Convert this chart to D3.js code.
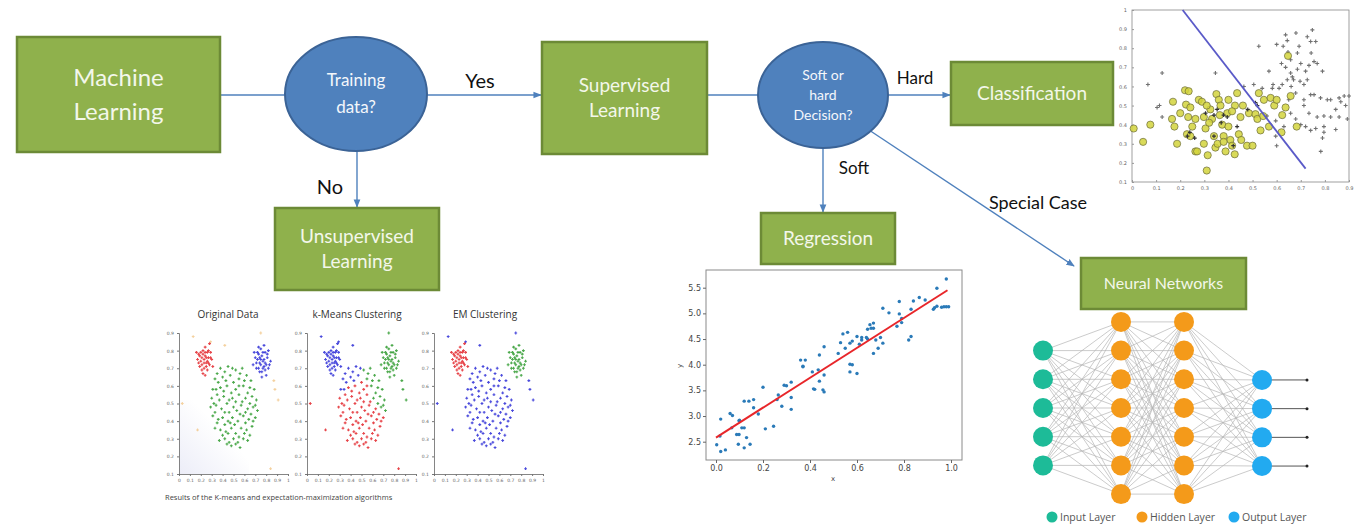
<!DOCTYPE html>
<html><head><meta charset="utf-8">
<script src="https://cdn.jsdelivr.net/npm/d3@7"></script>
<style>html,body{margin:0;padding:0;background:#fff;} svg{display:block;}</style>
</head><body><svg id="c" width="1360" height="526"></svg>
<script>
// ---------------- DATA ----------------
const boxLabels = [["Machine","Learning"],["Unsupervised","Learning"],["Supervised","Learning"],["Classification"],["Regression"],["Neural Networks"]];
const decisionLabels = [["Training","data?"],["Soft or","hard","Decision?"]];
const edgeLabels = ["Yes","No","Hard","Soft","Special Case"];

// regression scatter (x, y)
const regX = [0.003,0.02,0.04,0.02,0.017,0.06,0.07,0.067,0.088,0.098,0.098,0.10,0.095,0.11,0.12,0.12,0.12,0.14,0.13,0.145,0.16,0.16,0.18,0.20,0.21,0.245,0.26,0.265,0.28,0.29,0.30,0.32,0.32,0.32,0.36,0.37,0.38,0.37,0.41,0.415,0.42,0.435,0.44,0.44,0.455,0.46,0.46,0.46,0.52,0.53,0.54,0.55,0.56,0.57,0.57,0.57,0.58,0.58,0.60,0.60,0.61,0.62,0.62,0.64,0.645,0.645,0.655,0.66,0.67,0.67,0.67,0.68,0.69,0.70,0.71,0.71,0.736,0.77,0.78,0.78,0.79,0.79,0.82,0.83,0.83,0.84,0.865,0.89,0.925,0.93,0.94,0.94,0.96,0.97,0.98,0.98,0.99];
const regY = [2.44,2.31,2.34,2.94,2.61,3.05,3.01,2.77,2.64,2.64,2.91,2.92,2.45,2.77,2.77,2.38,3.29,3.29,2.58,2.45,3.16,3.32,3.04,3.56,2.75,2.80,3.32,3.41,3.19,3.60,3.59,3.66,3.36,3.13,4.09,3.97,4.09,3.96,3.86,3.53,3.52,3.90,4.19,3.68,3.51,3.47,4.35,3.80,4.22,4.43,4.60,4.32,4.63,4.42,4.01,3.86,4.46,4.00,3.83,4.55,4.40,4.48,4.53,4.53,4.50,4.69,4.78,4.71,4.81,4.22,4.71,4.48,4.32,4.53,4.42,5.10,5.01,4.75,5.23,4.99,4.82,4.90,4.48,4.55,5.08,5.24,5.31,5.26,5.08,5.11,5.49,5.14,5.12,5.13,5.67,5.13,5.13];
const regFitX = [0.0, 0.985];
const regFitY = [2.58, 5.45];
const regXTicks = [0.0,0.2,0.4,0.6,0.8,1.0];
const regYTicks = [2.5,3.0,3.5,4.0,4.5,5.0,5.5];

// classification scatter
const clsAX = [0.007,0.046,0.076,0.17,0.166,0.176,0.187,0.20,0.22,0.235,0.224,0.242,0.233,0.228,0.242,0.25,0.263,0.263,0.277,0.29,0.298,0.305,0.298,0.31,0.314,0.325,0.332,0.34,0.346,0.35,0.36,0.364,0.367,0.374,0.38,0.388,0.395,0.40,0.40,0.408,0.415,0.426,0.427,0.436,0.443,0.45,0.453,0.46,0.477,0.485,0.50,0.512,0.52,0.526,0.533,0.544,0.547,0.568,0.575,0.59,0.60,0.62,0.623,0.637,0.647,0.658,0.683,0.27,0.32,0.355,0.31,0.415,0.38];
const clsAY = [0.38,0.31,0.40,0.52,0.43,0.39,0.30,0.46,0.58,0.575,0.505,0.49,0.44,0.35,0.34,0.39,0.43,0.26,0.53,0.52,0.44,0.38,0.30,0.16,0.24,0.48,0.43,0.34,0.28,0.56,0.53,0.45,0.50,0.40,0.34,0.26,0.46,0.53,0.39,0.32,0.29,0.245,0.50,0.565,0.35,0.44,0.32,0.50,0.29,0.46,0.29,0.455,0.43,0.565,0.37,0.445,0.53,0.39,0.54,0.50,0.53,0.36,0.45,0.49,0.76,0.55,0.39,0.26,0.41,0.30,0.50,0.47,0.31];
const clsBX = [0.125,0.066,0.114,0.104,0.125,0.346,0.526,0.568,0.464,0.505,0.54,0.585,0.61,0.596,0.60,0.637,0.644,0.627,0.647,0.658,0.637,0.658,0.68,0.693,0.686,0.70,0.67,0.697,0.713,0.679,0.65,0.713,0.727,0.741,0.748,0.762,0.743,0.755,0.768,0.79,0.727,0.741,0.755,0.782,0.81,0.824,0.859,0.866,0.88,0.90,0.845,0.886,0.713,0.734,0.768,0.796,0.824,0.859,0.893,0.679,0.70,0.72,0.741,0.762,0.796,0.845,0.796,0.79,0.783,0.63,0.658,0.596,0.56,0.582,0.623,0.644,0.665,0.686,0.72,0.734,0.60,0.62,0.66];
const clsBY = [0.67,0.61,0.50,0.49,0.44,0.67,0.81,0.68,0.60,0.61,0.59,0.61,0.59,0.34,0.29,0.87,0.84,0.81,0.78,0.74,0.70,0.67,0.88,0.81,0.775,0.72,0.635,0.627,0.61,0.566,0.53,0.53,0.86,0.835,0.896,0.835,0.775,0.73,0.72,0.68,0.635,0.557,0.557,0.54,0.53,0.53,0.54,0.52,0.55,0.55,0.48,0.50,0.50,0.46,0.44,0.445,0.44,0.44,0.43,0.43,0.40,0.39,0.37,0.38,0.39,0.375,0.36,0.33,0.26,0.39,0.46,0.42,0.445,0.59,0.61,0.635,0.65,0.69,0.68,0.71,0.82,0.72,0.60];
const clsCX = [0.23,0.24,0.305,0.34,0.353,0.38,0.395,0.436,0.34,0.52,0.512,0.48,0.42,0.26,0.37];
const clsCY = [0.34,0.36,0.46,0.45,0.48,0.45,0.44,0.39,0.34,0.50,0.515,0.48,0.29,0.33,0.41];
const clsBoundaryX = [0.21,0.72];
const clsBoundaryY = [1.0,0.17];
const clsXTicks = [0,0.1,0.2,0.3,0.4,0.5,0.6,0.7,0.8,0.9];
const clsYTicks = [0.1,0.2,0.3,0.4,0.5,0.6,0.7,0.8,0.9,1];

// clustering example
const clusterTitles = ["Original Data","k-Means Clustering","EM Clustering"];
const clusterCaption = "Results of the K-means and expectation-maximization algorithms";
const redCluster = [[0.18,0.78],[0.20,0.74],[0.22,0.80],[0.24,0.77],[0.25,0.73],[0.27,0.76],[0.23,0.70],[0.21,0.76],[0.26,0.79],[0.28,0.72],[0.19,0.71],[0.24,0.82],[0.30,0.75],[0.22,0.67],[0.26,0.69],[0.17,0.75],[0.29,0.79],[0.23,0.75],[0.25,0.76],[0.20,0.79],[0.27,0.73],[0.31,0.71],[0.21,0.72],[0.24,0.66],[0.28,0.84],[0.16,0.79],[0.26,0.74],[0.22,0.78],
 [0.19,0.77],[0.23,0.73],[0.27,0.80],[0.21,0.69],[0.25,0.71],[0.29,0.76],[0.18,0.73],[0.24,0.79]];
const blueCluster = [[0.70,0.76],[0.72,0.79],[0.74,0.73],[0.76,0.77],[0.78,0.75],[0.80,0.72],[0.77,0.70],[0.75,0.81],[0.79,0.79],[0.73,0.70],[0.81,0.76],[0.82,0.70],[0.68,0.72],[0.76,0.68],[0.78,0.83],[0.74,0.76],[0.71,0.73],[0.80,0.66],[0.84,0.74],[0.77,0.74],[0.75,0.72],[0.79,0.69],[0.73,0.78],[0.69,0.79],[0.82,0.80],[0.76,0.65],[0.72,0.75],[0.78,0.71],
 [0.71,0.70],[0.75,0.75],[0.79,0.73],[0.73,0.82],[0.81,0.78],[0.77,0.79],[0.74,0.68],[0.83,0.72]];
const greenCluster = [[0.38,0.70],[0.45,0.71],[0.52,0.69],[0.58,0.70],[0.42,0.68],
 [0.33,0.64],[0.40,0.65],[0.47,0.66],[0.55,0.64],[0.62,0.66],[0.36,0.62],[0.50,0.62],[0.66,0.63],
 [0.31,0.58],[0.38,0.59],[0.44,0.60],[0.52,0.58],[0.59,0.60],[0.65,0.59],[0.69,0.58],[0.48,0.56],
 [0.30,0.53],[0.35,0.55],[0.41,0.54],[0.46,0.52],[0.55,0.55],[0.61,0.53],[0.67,0.54],[0.71,0.52],[0.58,0.51],
 [0.29,0.48],[0.34,0.49],[0.39,0.47],[0.44,0.50],[0.50,0.48],[0.53,0.46],[0.57,0.49],[0.63,0.47],[0.68,0.48],[0.72,0.46],[0.46,0.45],
 [0.31,0.43],[0.36,0.41],[0.40,0.42],[0.45,0.40],[0.49,0.42],[0.54,0.40],[0.59,0.43],[0.64,0.41],[0.70,0.42],[0.42,0.38],
 [0.33,0.36],[0.38,0.35],[0.43,0.34],[0.48,0.36],[0.52,0.33],[0.57,0.36],[0.62,0.35],[0.67,0.37],[0.55,0.31],
 [0.37,0.29],[0.42,0.30],[0.46,0.28],[0.50,0.30],[0.54,0.28],[0.59,0.30],[0.63,0.29],[0.48,0.26],[0.56,0.25],
 [0.35,0.67],[0.49,0.70],[0.56,0.67],[0.43,0.63],[0.60,0.63],[0.34,0.58],[0.41,0.57],[0.55,0.60],[0.63,0.56],[0.32,0.50],
 [0.37,0.52],[0.49,0.53],[0.52,0.51],[0.65,0.50],[0.70,0.49],[0.33,0.45],[0.42,0.45],[0.56,0.44],[0.61,0.45],[0.66,0.44],
 [0.35,0.39],[0.47,0.39],[0.51,0.38],[0.61,0.39],[0.68,0.40],[0.40,0.32],[0.45,0.33],[0.60,0.33],[0.65,0.32],[0.52,0.27],[0.44,0.27]];
const outlierPoints = [[0.13,0.88],[0.29,0.85],[0.42,0.83],[0.75,0.90],[0.87,0.63],[0.91,0.52],[0.03,0.50],[0.17,0.35],[0.84,0.13],[0.88,0.58]];
const kmeansGreenLabels = "bbggb"+"bbbggbrg"+"brrrgggr"+"rrrrrgggr"+"rrrrrrrrggr"+"rrrrrrrrrr"+"rrrrrrrrr"+"rrrrrrrrr"+"bbgbgbrrgrrrrggrrrrrrrrrrrrrrrr";
const kmeansOutlierLabels = "bbbgggrrrg";
const emOutlierLabels = "bbbbbbbbbb";
const clusterXTicks = [0,0.1,0.2,0.3,0.4,0.5,0.6,0.7,0.8,0.9,1];
const clusterYTicks = [0.1,0.2,0.3,0.4,0.5,0.6,0.7,0.8,0.9];

// neural network
const layerSizes = [5,7,7,4];
const layerNames = ["Input Layer","Hidden Layer","Output Layer"];

// ---------------- DRAW ----------------
const svg = d3.select("#c");
const FONT = "Lato, 'Open Sans', sans-serif";
const GREEN = "#8fb14c", GREEN_S = "#6c8a36", BLUE = "#4f81bd", BLUE_S = "#3b6396", LINE = "#4f81bd", TXT = "#f3f7ea";

svg.append("rect").attr("width",1360).attr("height",526).attr("fill","#fff");

const defs = svg.append("defs");
defs.append("marker").attr("id","arr").attr("viewBox","0 0 10 10").attr("refX",9).attr("refY",5)
  .attr("markerWidth",6).attr("markerHeight",6).attr("orient","auto")
  .append("path").attr("d","M0,1 L10,5 L0,9 z").attr("fill",LINE);

// edges
const edges = [
  {x1:220,y1:95,x2:286,y2:95,arrow:false},
  {x1:427,y1:95,x2:541,y2:95,arrow:true},
  {x1:357,y1:151,x2:357,y2:207,arrow:true},
  {x1:707,y1:95,x2:759,y2:95,arrow:false},
  {x1:887,y1:95,x2:950,y2:95,arrow:true},
  {x1:823,y1:148,x2:823,y2:212,arrow:true},
  {x1:866,y1:128,x2:1074,y2:266,arrow:true}
];
svg.append("g").selectAll("line").data(edges).join("line")
  .attr("x1",d=>d.x1).attr("y1",d=>d.y1).attr("x2",d=>d.x2).attr("y2",d=>d.y2)
  .attr("stroke",LINE).attr("stroke-width",1.4)
  .attr("marker-end",d=>d.arrow?"url(#arr)":null);

// boxes
const boxLayout = [
  {x:17,y:37,w:203,h:115,fs:24,lh:34},
  {x:275,y:208,w:164,h:82,fs:19,lh:25},
  {x:542,y:42,w:165,h:112,fs:19,lh:25},
  {x:951,y:62,w:162,h:63,fs:19,lh:25},
  {x:761,y:213,w:134,h:51,fs:19,lh:25},
  {x:1081,y:258,w:165,h:51,fs:16,lh:22}
];
const bg = svg.append("g").selectAll("g").data(boxLabels).join("g");
bg.append("rect").attr("x",(d,i)=>boxLayout[i].x).attr("y",(d,i)=>boxLayout[i].y)
  .attr("width",(d,i)=>boxLayout[i].w).attr("height",(d,i)=>boxLayout[i].h)
  .attr("fill",GREEN).attr("stroke",GREEN_S).attr("stroke-width",2.5);
bg.each(function(lines,i){
  const L = boxLayout[i];
  const cy = L.y + L.h/2;
  const t = d3.select(this).append("text").attr("text-anchor","middle")
    .attr("font-family",FONT).attr("font-size",L.fs).attr("fill",TXT);
  lines.forEach((s,k)=>{
    t.append("tspan").attr("x",L.x+L.w/2)
     .attr("y",cy + (k-(lines.length-1)/2)*L.lh + L.fs*0.35).text(s);
  });
});

// decisions
const decLayout = [
  {cx:356,cy:94,rx:71,ry:57,fs:17,lh:27},
  {cx:823,cy:95,rx:65,ry:53,fs:14,lh:20}
];
const dg = svg.append("g").selectAll("g").data(decisionLabels).join("g");
dg.append("ellipse").attr("cx",(d,i)=>decLayout[i].cx).attr("cy",(d,i)=>decLayout[i].cy)
  .attr("rx",(d,i)=>decLayout[i].rx).attr("ry",(d,i)=>decLayout[i].ry)
  .attr("fill",BLUE).attr("stroke",BLUE_S).attr("stroke-width",2);
dg.each(function(lines,i){
  const L = decLayout[i];
  const t = d3.select(this).append("text").attr("text-anchor","middle")
    .attr("font-family",FONT).attr("font-size",L.fs).attr("fill","#f4f7fb");
  lines.forEach((s,k)=>{
    t.append("tspan").attr("x",L.cx)
     .attr("y",L.cy + (k-(lines.length-1)/2)*L.lh + L.fs*0.35).text(s);
  });
});

// edge labels
const edgeLabelPos = [{x:480,y:88,fs:20},{x:330,y:194,fs:20},{x:915,y:84,fs:17},{x:854,y:174,fs:17},{x:1038,y:209,fs:18}];
svg.append("g").selectAll("text").data(edgeLabels).join("text")
  .attr("x",(d,i)=>edgeLabelPos[i].x).attr("y",(d,i)=>edgeLabelPos[i].y)
  .attr("font-size",(d,i)=>edgeLabelPos[i].fs).attr("font-family",FONT)
  .attr("text-anchor","middle").attr("fill","#111").text(d=>d);

// ---------- classification scatter (top right) ----------
{
  const x = d3.scaleLinear().domain([0,0.9]).range([1132,1349]);
  const y = d3.scaleLinear().domain([0.1,1.0]).range([182,10]);
  const g = svg.append("g");
  g.append("rect").attr("x",1132).attr("y",10).attr("width",217).attr("height",172)
    .attr("fill","#fff").attr("stroke","#888").attr("stroke-width",0.8);
  g.append("g").attr("transform","translate(0,182)")
    .call(d3.axisBottom(x).tickValues(clsXTicks).tickSize(-2).tickPadding(4).tickFormat(d3.format("")))
    .call(a=>a.select(".domain").remove())
    .call(a=>a.selectAll("line").attr("stroke","#999"))
    .call(a=>a.selectAll("text").attr("font-size",5).attr("fill","#666").attr("font-family","DejaVu Sans"));
  g.append("g").attr("transform","translate(1132,0)")
    .call(d3.axisLeft(y).tickValues(clsYTicks).tickSize(-2).tickPadding(5).tickFormat(d3.format("")))
    .call(a=>a.select(".domain").remove())
    .call(a=>a.selectAll("line").attr("stroke","#999"))
    .call(a=>a.selectAll("text").attr("font-size",5).attr("fill","#666").attr("font-family","DejaVu Sans"));
  g.append("g").selectAll("path").data(clsBX).join("path")
    .attr("d",(d,i)=>`M${x(d)-2},${y(clsBY[i])}h4M${x(d)},${y(clsBY[i])-2}v4`)
    .attr("stroke","#707070").attr("stroke-width",1.1);
  g.append("g").selectAll("circle").data(clsAX).join("circle")
    .attr("cx",d=>x(d)).attr("cy",(d,i)=>y(clsAY[i])).attr("r",3.6)
    .attr("fill","#d2d43c").attr("fill-opacity",0.85).attr("stroke","#6b6b3a").attr("stroke-width",0.7);
  g.append("g").selectAll("path").data(clsCX).join("path")
    .attr("d",(d,i)=>`M${x(d)-2},${y(clsCY[i])}h4M${x(d)},${y(clsCY[i])-2}v4`)
    .attr("stroke","#333").attr("stroke-width",1.2);
  g.append("line").attr("x1",x(clsBoundaryX[0])).attr("y1",y(clsBoundaryY[0]))
    .attr("x2",x(clsBoundaryX[1])).attr("y2",y(clsBoundaryY[1]))
    .attr("stroke","#5a5ac8").attr("stroke-width",1.8);
}

// ---------- regression plot ----------
{
  const x = d3.scaleLinear().domain([0,1]).range([716,951]);
  const y = d3.scaleLinear().domain([2.5,5.5]).range([441.7,287.7]);
  const g = svg.append("g");
  g.append("rect").attr("x",706).attr("y",270).attr("width",256).attr("height",190)
    .attr("fill","#fff").attr("stroke","#8a8a8a").attr("stroke-width",1);
  g.append("g").attr("transform","translate(0,460)")
    .call(d3.axisBottom(x).tickValues(regXTicks).tickSize(3).tickPadding(2).tickFormat(d3.format(".1f")))
    .call(a=>a.select(".domain").remove())
    .call(a=>a.selectAll("line").attr("stroke","#666"))
    .call(a=>a.selectAll("text").attr("font-size",8).attr("fill","#444").attr("font-family","DejaVu Sans"));
  g.append("g").attr("transform","translate(706,0)")
    .call(d3.axisLeft(y).tickValues(regYTicks).tickSize(3).tickPadding(2).tickFormat(d3.format(".1f")))
    .call(a=>a.select(".domain").remove())
    .call(a=>a.selectAll("line").attr("stroke","#666"))
    .call(a=>a.selectAll("text").attr("font-size",8).attr("fill","#444").attr("font-family","DejaVu Sans"));
  g.append("text").attr("x",833).attr("y",481).attr("text-anchor","middle").attr("font-size",7)
    .attr("fill","#444").attr("font-family","DejaVu Sans").text("x");
  g.append("text").attr("transform","translate(682,366) rotate(-90)").attr("text-anchor","middle")
    .attr("font-size",7).attr("fill","#444").attr("font-family","DejaVu Sans").text("y");
  g.append("g").selectAll("circle").data(regX).join("circle")
    .attr("cx",d=>x(d)).attr("cy",(d,i)=>y(regY[i])).attr("r",1.7).attr("fill","#2a7ab8");
  g.append("line").attr("x1",x(regFitX[0])).attr("y1",y(regFitY[0]))
    .attr("x2",x(regFitX[1])).attr("y2",y(regFitY[1]))
    .attr("stroke","#e8262a").attr("stroke-width",2);
}

// ---------- clustering plots ----------
{
  const colors = {r:"#e3262b", b:"#2b2bd6", g:"#2d9a2d", o:"#f2c98e"};
  const origins = [179,307,434];
  const titleX = [228,357,485];
  const y = d3.scaleLinear().domain([0.1,0.9]).range([474,333]);
  origins.forEach((ox,pi)=>{
    const x = d3.scaleLinear().domain([0,1]).range([ox,ox+109]);
    const g = svg.append("g");
    if(pi===0){
      const grad = defs.append("linearGradient").attr("id","bgL").attr("x1",0).attr("y1",1).attr("x2",1).attr("y2",0);
      grad.append("stop").attr("offset",0).attr("stop-color","#ecedf8");
      grad.append("stop").attr("offset",0.6).attr("stop-color","#fff");
      g.append("rect").attr("x",ox).attr("y",400).attr("width",70).attr("height",74).attr("fill","url(#bgL)");
    }
    g.append("text").attr("x",titleX[pi]).attr("y",318).attr("text-anchor","middle")
      .attr("font-size",10).attr("font-family","'Open Sans', sans-serif").attr("fill","#333").text(clusterTitles[pi]);
    g.append("g").attr("transform","translate(0,474)")
      .call(d3.axisBottom(x).tickValues(clusterXTicks).tickSize(2).tickPadding(3).tickFormat(d3.format("")))
      .call(a=>a.select(".domain").attr("stroke","#666").attr("stroke-width",0.8))
      .call(a=>a.selectAll("line").attr("stroke","#777"))
      .call(a=>a.selectAll("text").attr("font-size",4.5).attr("fill","#666").attr("font-family","DejaVu Sans"));
    g.append("g").attr("transform",`translate(${ox},0)`)
      .call(d3.axisLeft(y).tickValues(clusterYTicks).tickSize(2).tickPadding(3).tickFormat(d3.format("")))
      .call(a=>a.select(".domain").attr("stroke","#666").attr("stroke-width",0.8))
      .call(a=>a.selectAll("line").attr("stroke","#777"))
      .call(a=>a.selectAll("text").attr("font-size",4.5).attr("fill","#666").attr("font-family","DejaVu Sans"));
    const pts = [];
    outlierPoints.forEach((p,i)=>pts.push({p, c: pi===0?"o":pi===1?kmeansOutlierLabels[i]:emOutlierLabels[i]}));
    greenCluster.forEach((p,i)=>pts.push({p, c: pi===0?"g":pi===1?kmeansGreenLabels[i]:"b"}));
    redCluster.forEach(p=>pts.push({p, c: pi===0?"r":pi===1?"b":"r"}));
    blueCluster.forEach(p=>pts.push({p, c: pi===0?"b":pi===1?"g":"g"}));
    g.append("g").selectAll("path").data(pts).join("path")
      .attr("d",d=>`M${x(d.p[0])-1.4},${y(d.p[1])}h2.8M${x(d.p[0])},${y(d.p[1])-1.4}v2.8`)
      .attr("stroke",d=>colors[d.c]).attr("stroke-width",1.1).attr("stroke-opacity",0.85);
  });
  svg.append("text").attr("x",165).attr("y",500).attr("font-size",7.5)
    .attr("font-family","'Open Sans', sans-serif").attr("fill","#444").text(clusterCaption);
}

// ---------- neural network ----------
{
  const layerXs = [1043,1121,1184,1262];
  const layerCenter = [408,408,408,423];
  const step = 28.7;
  const nodes = layerSizes.map((n,li)=>d3.range(n).map(k=>({x:layerXs[li], y: layerCenter[li] + (k-(n-1)/2)*step, li})));
  const g = svg.append("g");
  const links = [];
  for(let l=0;l<nodes.length-1;l++) nodes[l].forEach(a=>nodes[l+1].forEach(b=>links.push([a,b])));
  g.append("g").selectAll("line").data(links).join("line")
    .attr("x1",d=>d[0].x).attr("y1",d=>d[0].y).attr("x2",d=>d[1].x).attr("y2",d=>d[1].y)
    .attr("stroke","#b4b4b4").attr("stroke-width",0.7);
  g.append("g").selectAll("line").data(nodes[3]).join("line")
    .attr("x1",d=>d.x).attr("y1",d=>d.y).attr("x2",1306).attr("y2",d=>d.y)
    .attr("stroke","#555").attr("stroke-width",1);
  g.append("g").selectAll("circle").data(nodes[3]).join("circle")
    .attr("cx",1307).attr("cy",d=>d.y).attr("r",1.5).attr("fill","#222");
  const ncol = ["#1dbb98","#f49a1a","#f49a1a","#22aaf0"];
  g.append("g").selectAll("circle").data(nodes.flat()).join("circle")
    .attr("cx",d=>d.x).attr("cy",d=>d.y).attr("r",10).attr("fill",d=>ncol[d.li]);
  const legX = [1052,1142,1234];
  const legCol = ["#1dbb98","#f49a1a","#22aaf0"];
  const lg = g.append("g").selectAll("g").data(layerNames).join("g");
  lg.append("circle").attr("cx",(d,i)=>legX[i]).attr("cy",517).attr("r",5.5).attr("fill",(d,i)=>legCol[i]);
  lg.append("text").attr("x",(d,i)=>legX[i]+8).attr("y",521).attr("font-size",10.5)
    .attr("font-family","'Open Sans', sans-serif").attr("fill","#555").text(d=>d);
}
</script></body></html>
